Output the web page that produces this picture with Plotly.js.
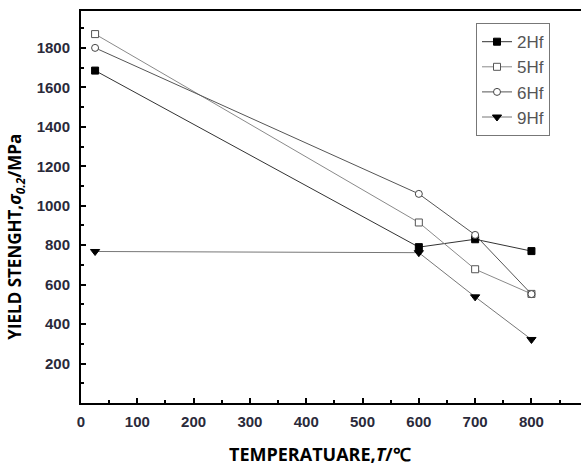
<!DOCTYPE html>
<html>
<head>
<meta charset="utf-8">
<script src="https://cdn.plot.ly/plotly-3.0.1.min.js"></script>
<style>html,body{margin:0;padding:0;background:#fff;}#chart{width:581px;height:466px;}</style>
</head>
<body>
<div id="chart"></div>
<script>
const temps = [25, 600, 700, 800];
const hf2 = [1685, 790, 830, 770];
const hf5 = [1870, 915, 678, 553];
const hf6 = [1800, 1060, 852, 552];
const hf9 = [768, 762, 538, 322];
const seriesNames = ['2Hf', '5Hf', '6Hf', '9Hf'];
const xTicks = [0, 100, 200, 300, 400, 500, 600, 700, 800];
const yTicks = [200, 400, 600, 800, 1000, 1200, 1400, 1600, 1800];
const xTitle = 'TEMPERATUARE,<i>T</i>/℃';
const yTitle = 'YIELD STENGHT,<i>σ</i><sub><i>0.2</i></sub>/MPa';

const traces = [
  {x: temps, y: hf2, name: seriesNames[0], mode: 'lines+markers',
   line: {color: '#333', width: 1},
   marker: {symbol: 'square', size: 7, color: '#000', line: {color: '#000', width: 1}}},
  {x: temps, y: hf5, name: seriesNames[1], mode: 'lines+markers',
   line: {color: '#8a8a8a', width: 1},
   marker: {symbol: 'square', size: 7, color: '#fff', line: {color: '#555', width: 1}}},
  {x: temps, y: hf6, name: seriesNames[2], mode: 'lines+markers',
   line: {color: '#555', width: 1},
   marker: {symbol: 'circle', size: 7, color: '#fff', line: {color: '#444', width: 1}}},
  {x: temps, y: hf9, name: seriesNames[3], mode: 'lines+markers',
   line: {color: '#777', width: 1},
   marker: {symbol: 'triangle-down', size: 8, color: '#000', line: {color: '#000', width: 1}}}
];

const tickFont = {family: 'Liberation Sans, Arial', size: 15, color: '#2a2a3a', weight: 'bold'};
const titleFont = {family: 'Open Sans', size: 17, color: '#000', weight: 'bold'};
const layout = {
  width: 581, height: 466,
  margin: {l: 81, r: 0, t: 11, b: 63},
  paper_bgcolor: '#fff', plot_bgcolor: '#fff',
  showlegend: true,
  legend: {x: 0.79, y: 0.969, xanchor: 'left', yanchor: 'top',
    bordercolor: '#777', borderwidth: 1, bgcolor: '#fff',
    font: {family: 'Liberation Sans', size: 17, color: '#555'},
    tracegroupgap: 0, itemwidth: 30},
  xaxis: {range: [0, 888], tickvals: xTicks, ticktext: xTicks.map(String),
    showgrid: false, zeroline: false, showline: true, linecolor: '#000', linewidth: 2,
    mirror: true,
    ticks: 'inside', ticklen: 5, tickwidth: 2, tickcolor: '#000',
    minor: {ticks: 'inside', ticklen: 3, tickwidth: 2, tickcolor: '#000', dtick: 50, tick0: 0},
    tickfont: tickFont, ticklabelstandoff: 4},
  yaxis: {range: [0, 1987], tickvals: yTicks, ticktext: yTicks.map(String),
    showgrid: false, zeroline: false, showline: true, linecolor: '#000', linewidth: 2,
    ticks: 'inside', ticklen: 5, tickwidth: 2, tickcolor: '#000',
    minor: {ticks: 'inside', ticklen: 3, tickwidth: 2, tickcolor: '#000', dtick: 100, tick0: 0},
    tickfont: tickFont, ticklabelstandoff: 6},
  annotations: [
    {text: xTitle, xref: 'paper', yref: 'paper', x: (320 - 81) / 500, y: (403.5 - 455) / 392.5,
     xanchor: 'center', yanchor: 'middle', showarrow: false,
     font: Object.assign({}, titleFont, {size: 18})},
    {text: yTitle, xref: 'paper', yref: 'paper', x: (16 - 81) / 500, y: (403.5 - 237) / 392.5,
     xanchor: 'center', yanchor: 'middle', textangle: -90, showarrow: false, font: titleFont}
  ]
};

Plotly.newPlot('chart', traces, layout, {displayModeBar: false, staticPlot: true});
</script>
</body>
</html>
